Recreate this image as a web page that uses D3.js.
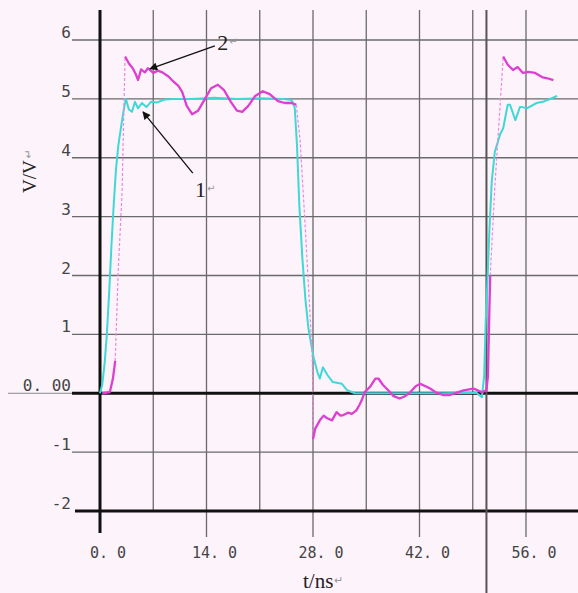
<!DOCTYPE html>
<html>
<head>
<meta charset="utf-8">
<script src="https://cdn.jsdelivr.net/npm/d3@7/dist/d3.min.js"></script>
<style>
  html, body { margin: 0; padding: 0; background: #fdf3fb; }
  svg { display: block; }
</style>
</head>
<body>
<svg id="chart" width="578" height="593"></svg>
<script>
// ---------------- data ----------------
const yTicks = [6, 5, 4, 3, 2, 1, 0, -1, -2];
const yTickLabels = ["6", "5", "4", "3", "2", "1", "0. 00", "-1", "-2"];
const xGridTicks = [7, 14, 21, 28, 35, 42, 49, 56];
const xLabelTicks = [0, 14, 28, 42, 56];
const xTickLabels = ["0. 0", "14. 0", "28. 0", "42. 0", "56. 0"];
const markerTime = 50.8;
const xTitle = "t/ns";
const yTitle = "V/V";

// curve 1 (cyan)
const curve1 = [[0,0],[0.3,0.15],[0.6,0.5],[0.9,1.0],[1.2,1.7],[1.5,2.5],[1.8,3.2],[2.1,3.8],[2.4,4.2],[2.8,4.55],[3.1,4.8],[3.4,5.0],[3.8,4.82],[4.2,4.78],[4.6,4.95],[5.0,4.84],[5.5,4.93],[6.1,4.86],[6.7,4.95],[7.5,4.94],[8.5,4.99],[10,5.0],[12,5.0],[15,5.02],[18,5.0],[21,5.01],[24,5.0],[25.2,4.98],[25.6,4.85],[25.9,4.2],[26.2,3.2],[26.6,2.3],[27.0,1.6],[27.4,1.1],[27.8,0.8],[28.1,0.6],[28.6,0.35],[28.9,0.25],[29.3,0.44],[29.9,0.31],[30.6,0.19],[31.8,0.16],[32.5,0.05],[33.5,0.0],[40,0.0],[45,0.0],[49.5,0.01],[50.2,-0.07],[50.5,0.3],[50.7,1.2],[50.9,1.8],[51.2,2.8],[51.5,3.6],[51.9,4.1],[52.6,4.4],[53.0,4.5],[53.6,4.9],[53.9,4.9],[54.6,4.64],[55.2,4.86],[55.5,4.86],[56.1,4.84],[57.4,4.93],[58.2,4.95],[59.4,5.01],[60.1,5.05]];

// curve 2 (magenta): solid pieces and dashed edges
const curve2Foot = [[0.3,0],[1.3,0.02],[1.7,0.25],[2.0,0.55]];
const curve2Edge1 = [[2.0,0.55],[2.4,2.1],[2.9,3.4],[3.1,4.6],[3.3,5.7]];
const curve2High1 = [[3.3,5.72],[3.8,5.6],[4.3,5.52],[4.7,5.42],[5.0,5.32],[5.4,5.5],[5.9,5.45],[6.3,5.52],[7.0,5.44],[7.6,5.48],[8.2,5.45],[9.0,5.38],[9.6,5.3],[10.3,5.22],[10.8,5.12],[11.4,4.88],[12.1,4.74],[12.9,4.8],[13.8,5.0],[14.6,5.18],[15.5,5.24],[16.3,5.15],[17.2,4.95],[18.0,4.8],[18.7,4.78],[19.5,4.88],[20.4,5.05],[21.4,5.13],[22.3,5.08],[23.4,4.96],[24.3,4.93],[25.2,4.93],[25.8,4.9]];
const curve2Edge2 = [[25.8,4.9],[26.3,4.3],[26.9,3.0],[27.5,1.6],[27.9,0.6],[28.0,-0.2],[28.0,-0.78]];
const curve2Low = [[28.0,-0.78],[28.3,-0.6],[28.9,-0.46],[29.4,-0.38],[29.8,-0.42],[30.5,-0.46],[31.1,-0.32],[31.6,-0.38],[32.0,-0.37],[32.6,-0.33],[33.1,-0.35],[33.7,-0.29],[34.1,-0.2],[34.4,-0.12],[34.8,0.02],[35.5,0.11],[36.2,0.25],[36.6,0.25],[37.2,0.14],[37.9,0.05],[38.6,-0.05],[39.4,-0.09],[40.1,-0.05],[40.8,0.02],[41.5,0.12],[42.1,0.16],[42.8,0.12],[43.4,0.08],[44.2,0.01],[45.1,-0.03],[46.0,-0.03],[46.9,0.01],[47.8,0.05],[49.1,0.08],[49.8,0.04],[50.2,0.02],[50.8,0.05],[51.0,0.3],[51.2,1.5],[51.3,2.0]];
const curve2Edge3 = [[51.3,2.0],[51.9,3.5],[52.4,4.5],[52.8,5.3],[53.0,5.72]];
const curve2High2 = [[53.0,5.72],[53.6,5.58],[54.3,5.49],[54.9,5.54],[55.6,5.44],[56.3,5.46],[57.2,5.44],[58.1,5.37],[58.8,5.35],[59.6,5.32]];

// annotations: label position, arrow start, arrow tip (data units)
const annotLabels = ["1", "2"];
const annotText = [[12.5, 3.33], [15.4, 5.83]];
const annotFrom = [[12.2, 3.74], [15.1, 5.9]];
const annotTip = [[5.65, 4.78], [6.57, 5.51]];

// ---------------- drawing ----------------
const svg = d3.select("#chart");
const x = d3.scaleLinear().domain([0, 56]).range([100, 526]);
const y = d3.scaleLinear().domain([-2, 6]).range([511, 40]);

const W = 578, H = 593;
const gridColor = "#6a6a6a";
const topY = 10;

svg.append("rect").attr("width", W).attr("height", H).attr("fill", "#fdf3fb");

// horizontal grid lines
svg.append("g").selectAll("line").data(yTicks.filter(v => v !== 0 && v !== -2)).join("line")
  .attr("x1", 72).attr("x2", W)
  .attr("y1", d => y(d)).attr("y2", d => y(d))
  .attr("stroke", gridColor).attr("stroke-width", 1.3);

// vertical grid lines
svg.append("g").selectAll("line").data(xGridTicks).join("line")
  .attr("x1", d => x(d)).attr("x2", d => x(d))
  .attr("y1", topY).attr("y2", d => xLabelTicks.includes(d) ? 537 : y(-2))
  .attr("stroke", gridColor).attr("stroke-width", 1.3);

// thick zero line and bottom line
svg.append("line").attr("x1", 8).attr("x2", 72).attr("y1", y(0)).attr("y2", y(0))
  .attr("stroke", "#888").attr("stroke-width", 1);
svg.append("line").attr("x1", 72).attr("x2", W).attr("y1", y(0)).attr("y2", y(0))
  .attr("stroke", "#111").attr("stroke-width", 3);
svg.append("line").attr("x1", 75).attr("x2", W).attr("y1", y(-2)).attr("y2", y(-2))
  .attr("stroke", "#111").attr("stroke-width", 3);

// y axis thick
svg.append("line").attr("x1", x(0)).attr("x2", x(0)).attr("y1", topY).attr("y2", 533)
  .attr("stroke", "#111").attr("stroke-width", 3);

// marker vertical line
svg.append("line").attr("x1", x(markerTime)).attr("x2", x(markerTime)).attr("y1", topY).attr("y2", H)
  .attr("stroke", "#555").attr("stroke-width", 2);

// y tick labels
svg.append("g").selectAll("text").data(yTicks).join("text")
  .attr("x", 71).attr("y", d => y(d) - 2)
  .attr("text-anchor", "end")
  .attr("font-family", "DejaVu Sans Mono, monospace").attr("font-size", 16)
  .attr("fill", "#444")
  .text((d, i) => yTickLabels[i]);

// x tick labels
svg.append("g").selectAll("text").data(xLabelTicks).join("text")
  .attr("x", d => x(d) + 8).attr("y", 558)
  .attr("text-anchor", "middle")
  .attr("font-family", "DejaVu Sans Mono, monospace").attr("font-size", 15)
  .attr("fill", "#444")
  .text((d, i) => xTickLabels[i]);

// axis titles
const xt = svg.append("text").attr("x", 303).attr("y", 588)
  .attr("font-family", "Liberation Serif, serif").attr("font-size", 21).attr("fill", "#222");
xt.append("tspan").text(xTitle);
xt.append("tspan").attr("font-size", 11).attr("fill", "#999").attr("font-family", "DejaVu Sans").attr("dx", 1).attr("dy", -4).text("\u21B5");

const yt = svg.append("text").attr("transform", "translate(36,193) rotate(-90)")
  .attr("font-family", "Liberation Serif, serif").attr("font-size", 19).attr("fill", "#222");
yt.append("tspan").text(yTitle);
yt.append("tspan").attr("font-size", 11).attr("fill", "#999").attr("font-family", "DejaVu Sans").attr("dx", 2).attr("dy", -4).text("\u21B5");

// curves
const line = d3.line().x(d => x(d[0])).y(d => y(d[1]));
const cyan = "#3ed8d6", magenta = "#dd3fd0", pinkDash = "#ee86dc";

svg.append("path").datum(curve1).attr("d", line)
  .attr("fill", "none").attr("stroke", cyan).attr("stroke-width", 2).attr("stroke-linejoin", "round");

[curve2Edge1, curve2Edge2, curve2Edge3].forEach(seg => {
  svg.append("path").datum(seg).attr("d", line)
    .attr("fill", "none").attr("stroke", pinkDash).attr("stroke-width", 1.2)
    .attr("stroke-dasharray", "3,2");
});
[curve2Foot, curve2High1, curve2Low, curve2High2].forEach(seg => {
  svg.append("path").datum(seg).attr("d", line)
    .attr("fill", "none").attr("stroke", magenta).attr("stroke-width", 2.3).attr("stroke-linejoin", "round");
});

// annotations
svg.append("defs").append("marker").attr("id", "ah")
  .attr("viewBox", "0 0 10 10").attr("refX", 9).attr("refY", 5)
  .attr("markerWidth", 10).attr("markerHeight", 8).attr("markerUnits", "userSpaceOnUse")
  .attr("orient", "auto")
  .append("path").attr("d", "M0,0 L10,5 L0,10 z").attr("fill", "#111");

annotLabels.forEach((lab, i) => {
  svg.append("line")
    .attr("x1", x(annotFrom[i][0])).attr("y1", y(annotFrom[i][1]))
    .attr("x2", x(annotTip[i][0])).attr("y2", y(annotTip[i][1]))
    .attr("stroke", "#111").attr("stroke-width", 1.3).attr("marker-end", "url(#ah)");
  const t = svg.append("text").attr("x", x(annotText[i][0])).attr("y", y(annotText[i][1]))
    .attr("font-family", "Liberation Serif, serif").attr("font-size", 22).attr("fill", "#222");
  t.append("tspan").text(lab);
  t.append("tspan").attr("font-size", 10).attr("fill", "#999").attr("font-family", "DejaVu Sans").attr("dx", 1).attr("dy", -5).text("\u21B5");
});
</script>
</body>
</html>
